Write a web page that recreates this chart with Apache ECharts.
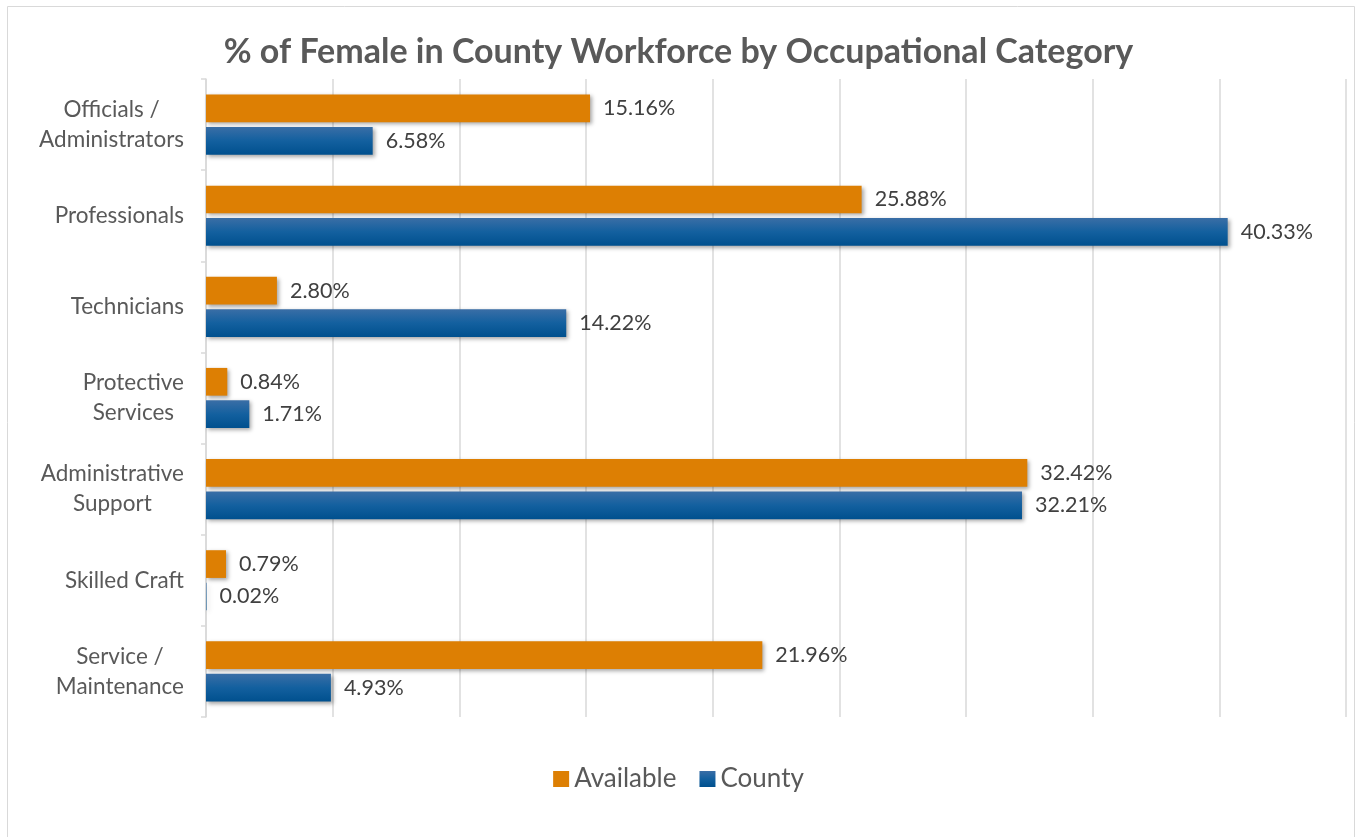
<!DOCTYPE html>
<html>
<head>
<meta charset="utf-8">
<script src="https://cdn.jsdelivr.net/npm/echarts@6/dist/echarts.min.js"></script>
<style>
  html, body { margin: 0; padding: 0; background: #fff; }
  #container { width: 1357px; height: 837px; }
</style>
</head>
<body>
<div id="container"></div>
<script>
// data
const categories = [
  'Officials /\nAdministrators',
  'Professionals',
  'Technicians',
  'Protective\nServices',
  'Administrative\nSupport',
  'Skilled Craft',
  'Service /\nMaintenance'
];
const available = [15.16, 25.88, 2.80, 0.84, 32.42, 0.79, 21.96];
const county = [6.58, 40.33, 14.22, 1.71, 32.21, 0.02, 4.93];

const fontFamily = 'Lato, "Open Sans", sans-serif';

const blueGrad = new echarts.graphic.LinearGradient(0, 0, 0, 1, [
  { offset: 0, color: '#3a6ea6' },
  { offset: 0.5, color: '#13609f' },
  { offset: 1, color: '#00508e' }
]);

const barShadow = {
  shadowBlur: 4,
  shadowOffsetX: 2,
  shadowOffsetY: 2,
  shadowColor: 'rgba(0,0,0,0.35)'
};

function pctLabel(p) {
  return p.value.toFixed(2) + '%';
}

let chart = echarts.init(document.querySelector('#container'));
chart.setOption({
  animation: false,
  textStyle: { fontFamily: fontFamily },
  title: {
    text: '% of Female in County Workforce by Occupational Category',
    left: 'center',
    top: 30,
    textStyle: { fontSize: 34, fontWeight: 'bold', color: '#595959', fontFamily: fontFamily }
  },
  legend: {
    bottom: 40,
    left: 'center',
    icon: 'rect',
    itemWidth: 16,
    itemHeight: 16,
    itemGap: 23,
    itemTextGap: 6,
    textStyle: { fontSize: 26, color: '#595959', fontFamily: fontFamily },
    data: ['Available', 'County']
  },
  graphic: [{
    type: 'rect',
    shape: { x: 7.5, y: 6.5, width: 1347, height: 845 },
    style: { fill: 'none', stroke: '#d9d9d9', lineWidth: 1 },
    silent: true
  }],
  grid: { left: 206, right: 11, top: 79, bottom: 120, containLabel: false },
  xAxis: {
    type: 'value',
    min: 0,
    max: 45,
    interval: 5,
    axisLabel: { show: false },
    axisLine: { show: false },
    axisTick: { show: false },
    splitLine: { lineStyle: { color: '#d9d9d9', width: 1.5 } }
  },
  yAxis: {
    type: 'category',
    inverse: true,
    data: categories,
    axisLine: { show: true, lineStyle: { color: '#d9d9d9', width: 1.5 } },
    axisTick: { show: true, length: 5, lineStyle: { color: '#d9d9d9', width: 1.5 } },
    axisLabel: {
      margin: 22,
      color: '#595959',
      formatter: function (v) {
        return v.split('\n').map(function (s) { return '{c|' + s + '}'; }).join('\n');
      },
      rich: { c: { align: 'center', fontSize: 22.5, color: '#595959', lineHeight: 30, fontFamily: fontFamily } }
    }
  },
  series: [
    {
      name: 'Available',
      type: 'bar',
      data: available,
      barCategoryGap: '34%',
      barGap: '17%',
      itemStyle: Object.assign({ color: '#dd7f03' }, barShadow),
      label: { show: true, position: 'right', distance: 13, fontSize: 21.5, color: '#404040', formatter: pctLabel }
    },
    {
      name: 'County',
      type: 'bar',
      data: county,
      itemStyle: Object.assign({ color: blueGrad }, barShadow),
      label: { show: true, position: 'right', distance: 13, fontSize: 21.5, color: '#404040', formatter: pctLabel }
    }
  ]
});
</script>
</body>
</html>
